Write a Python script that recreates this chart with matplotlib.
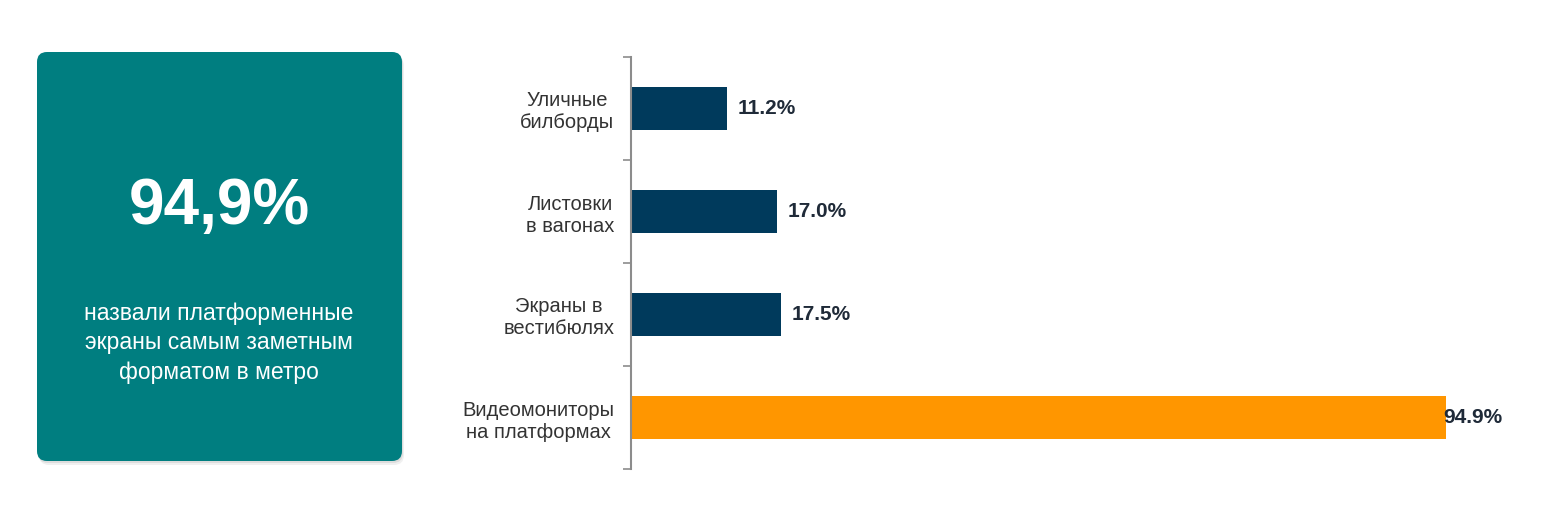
import matplotlib.pyplot as plt
from matplotlib.patches import FancyBboxPatch

plt.rcParams['font.family'] = ['Liberation Sans', 'DejaVu Sans']

# Data
categories = ['Уличные\nбилборды', 'Листовки\nв вагонах', 'Экраны в\nвестибюлях', 'Видеомониторы\nна платформах']
values = [11.2, 17.0, 17.5, 94.9]
colors = ['#003A5C', '#003A5C', '#003A5C', '#FF9600']
headline = '94,9%'
caption = 'назвали платформенные\nэкраны самым заметным\nформатом в метро'

W, H = 1546, 508
fig = plt.figure(figsize=(W / 100, H / 100), dpi=100)

# Background layer in pixel coordinates for the card
bg = fig.add_axes([0, 0, 1, 1])
bg.set_xlim(0, W)
bg.set_ylim(H, 0)
bg.axis('off')

# Soft shadow + teal card
for off, a in [(4, 0.06), (2, 0.08)]:
    bg.add_patch(FancyBboxPatch((37 + off / 2, 52 + off), 365, 409, boxstyle='round,pad=0,rounding_size=10',
                                facecolor='#000000', edgecolor='none', alpha=a))
bg.add_patch(FancyBboxPatch((37, 52), 365, 409, boxstyle='round,pad=0,rounding_size=10',
                            facecolor='#007E80', edgecolor='none'))
bg.text(219, 207, headline, color='white', fontsize=46, fontweight='bold', ha='center', va='center')
bg.text(219, 343, caption, color='white', fontsize=16.5, ha='center', va='center', linespacing=1.35)

# Bar chart
x0, x1, y0, y1 = 631, 1490, 57, 469
ax = fig.add_axes([x0 / W, 1 - y1 / H, (x1 - x0) / W, (y1 - y0) / H])
pos = list(range(len(categories)))
ax.barh(pos, values, height=0.42, color=colors)
ax.set_xlim(0, 100)
ax.set_ylim(len(categories) - 0.5, -0.5)

for i, v in enumerate(values):
    if v > 90:
        ax.text(v - 0.3, i, f'{v:.1f}%', va='center', ha='left', fontsize=15, fontweight='bold', color='#1F2A38')
    else:
        ax.text(v + 1.2, i, f'{v:.1f}%', va='center', ha='left', fontsize=15, fontweight='bold', color='#1F2A38')

# Boundary ticks on the axis, category labels as minor ticks
ax.set_yticks([p - 0.5 for p in pos] + [len(pos) - 0.5])
ax.set_yticklabels([])
ax.set_yticks(pos, minor=True)
ax.set_yticklabels(categories, minor=True, fontsize=14.5, color='#333333', ha='right',
                   multialignment='center')
ax.tick_params(axis='y', which='major', length=6, width=1.2, color='#8C8C8C', direction='out')
ax.tick_params(axis='y', which='minor', length=0, pad=12)
ax.set_xticks([])

for s in ['top', 'right', 'bottom']:
    ax.spines[s].set_visible(False)
ax.spines['left'].set_color('#8C8C8C')
ax.spines['left'].set_linewidth(1.5)

fig.savefig('out.png', dpi=100, facecolor='white')
